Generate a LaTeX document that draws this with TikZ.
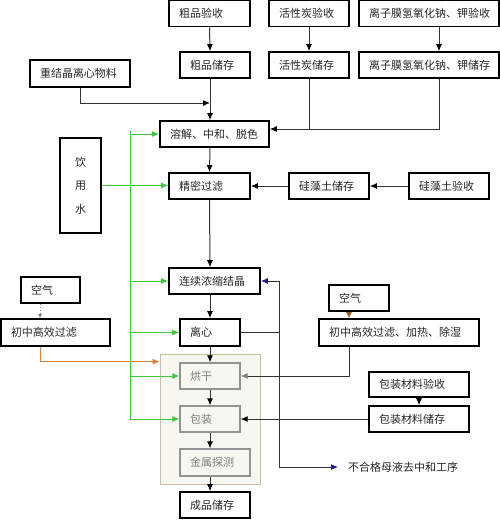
\documentclass[tikz,border=0pt]{standalone}
\usepackage{fontspec}
\newfontfamily\cjk{Noto Sans CJK SC}
\usepackage{xcolor}
\usetikzlibrary{arrows.meta}

\definecolor{linegray}{HTML}{333333}
\definecolor{watergreen}{HTML}{3CC83C}
\definecolor{airorange}{HTML}{D9823F}
\definecolor{airbrown}{HTML}{9A5A2A}
\definecolor{backblue}{HTML}{1E1E8C}
\definecolor{zonefill}{HTML}{F8F6F0}
\definecolor{zoneline}{HTML}{C9BEA6}

\begin{document}
\begin{tikzpicture}[x=1pt,y=-1pt,
	box/.style={draw=black, line width=1.6pt, inner xsep=10pt, inner ysep=0pt,
		minimum height=26pt, align=left, text=black!85,
		font=\cjk\fontsize{11}{13}\selectfont},
	greybox/.style={box, draw=gray!85, text=gray, line width=1.3pt},
	arr/.style={draw=linegray, line width=1pt, -{Latex[length=7pt,width=6pt,color=black]}},
	garr/.style={draw=watergreen, line width=1pt, -{Latex[length=7pt,width=6pt]}},
	barr/.style={draw=linegray, line width=1pt, -{Latex[length=7pt,width=6pt,color=backblue]}}]

	\useasboundingbox (0,0) rectangle (500,520);

	% Packing zone
	\node[draw=zoneline, fill=zonefill, line width=0.8pt, minimum width=100pt,
		minimum height=130pt, inner sep=0pt] (zone) at (210,419) {};

	% Receiving
	\node[box, text width=61pt] (cpys) at (209.5,13.5) {粗品验收};
	\node[box, text width=60pt] (hxtys) at (309,13.5) {活性炭验收};
	\node[box, text width=120pt] (lzmys) at (429,13.5) {离子膜氢氧化钠、钾验收};

	% Storage
	\node[box, text width=50pt] (cpcc) at (215,65) {粗品储存};
	\node[box, text width=60pt] (hxtcc) at (309,65) {活性炭储存};
	\node[box, text width=120pt] (lzmcc) at (429,65) {离子膜氢氧化钠、钾储存};
	\node[box, text width=80pt, minimum height=27pt] (cjj) at (80,73.5) {重结晶离心物料};

	% Main line
	\node[box, text width=89pt] (rj) at (214.5,134) {溶解、中和、脱色};
	\node[box, align=center, minimum width=41pt, minimum height=95pt, inner xsep=0pt,
		font=\cjk\fontsize{11}{23.5}\selectfont] (ysw) at (80.5,185.5) {饮\\用\\水};
	\node[box, text width=61pt] (jmgl) at (209.5,186) {精密过滤};
	\node[box, text width=60pt] (gztcc) at (329,186) {硅藻土储存};
	\node[box, text width=60pt] (gztys) at (449,186) {硅藻土验收};
	\node[box, text width=71pt] (lxns) at (214.5,281) {连续浓缩结晶};
	\node[box, text width=40pt, minimum height=27pt] (lx) at (210,332.5) {离心};
	\node[greybox, text width=40pt] (hg) at (210,376) {烘干};
	\node[greybox, text width=40pt] (bz) at (210,419) {包装};
	\node[greybox, text width=50pt, minimum height=27pt] (jsts) at (215,462.5) {金属探测};
	\node[box, text width=50pt] (cpcc2) at (215,505) {成品储存};

	% Air
	\node[box, text width=39pt] (kq1) at (50.5,290) {空气};
	\node[box, text width=89pt, minimum height=27pt] (cz1) at (55.5,332.5) {初中高效过滤};
	\node[box, text width=40pt] (kq2) at (359,298) {空气};
	\node[box, text width=140pt, minimum height=27pt] (cz2) at (399,332.5) {初中高效过滤、加热、除湿};

	% Packing material
	\node[box, text width=80pt, minimum height=25pt] (bzys) at (419,384.5) {包装材料验收};
	\node[box, text width=80pt] (bzcc) at (419,419) {包装材料储存};

	% Mother liquor
	\node[anchor=west, inner xsep=10pt, text=black!85,
		font=\cjk\fontsize{11}{13}\selectfont] (bhg) at (338,467) {不合格母液去中和工序};

	% Helper points
	\coordinate (mx) at (210,0);
	\coordinate (gx) at (130,131);
	\coordinate (j1) at (210,103);
	\coordinate (ret) at (279,0);
	\coordinate (rjin) at ([yshift=5pt]rj.east);
	\coordinate (zin) at ([yshift=-8pt]zone.north west);

	% Receiving to storage
	\draw[arr] (cpys.south) -- (mx |- cpcc.north);
	\draw[arr] (hxtys.south) -- (hxtcc.north);
	\draw[arr] ([xshift=10pt]lzmys.south) -- ([xshift=10pt]lzmcc.north);

	% Into dissolving
	\draw[arr] (mx |- cpcc.south) -- (mx |- rj.north);
	\draw[arr] (cjj.south) |- (j1);
	\draw[draw=linegray, line width=1pt] (hxtcc.south) -- (hxtcc.south |- rjin);
	\draw[arr] ([xshift=10pt]lzmcc.south) |- (rjin);

	% Main line
	\draw[arr] (mx |- rj.south) -- (jmgl.north);
	\draw[arr] (gztcc.west) -- (jmgl.east);
	\draw[arr] (gztys.west) -- (gztcc.east);
	\draw[arr] (jmgl.south) -- (mx |- lxns.north);
	\draw[arr] (mx |- lxns.south) -- (lx.north);
	\draw[arr] (lx.south) -- (hg.north);
	\draw[arr] (hg.south) -- (bz.north);
	\draw[arr] (bz.south) -- (mx |- jsts.north);
	\draw[arr] (mx |- jsts.south) -- (mx |- cpcc2.north);

	% Drinking water
	\draw[garr] (ysw.east) -- (ysw.east -| jmgl.west);
	\draw[draw=watergreen, line width=1pt] (gx) -- (gx |- bz.west);
	\draw[garr] (rj.west -| gx) -- (rj.west);
	\draw[garr] (lxns.west -| gx) -- (lxns.west);
	\draw[garr] (lx.west -| gx) -- (lx.west);
	\draw[garr] (hg.west -| gx) -- (hg.west);
	\draw[garr] (bz.west -| gx) -- (bz.west);

	% Air lines
	\draw[draw=gray, dotted, line width=1pt, -{Latex[length=4pt,width=4pt]}]
		([xshift=-10.5pt]kq1.south) -- ([xshift=-15.5pt]cz1.north);
	\draw[draw=airorange, line width=1pt, -{Latex[length=7pt,width=6pt]}]
		([xshift=-15.5pt]cz1.south) |- (zin);
	\draw[draw=airbrown, line width=1pt, -{Latex[length=6pt,width=6pt]}]
		([xshift=-10pt]kq2.south) -- ([xshift=-50pt]cz2.north);
	\draw[draw=linegray, line width=1pt, -{Latex[length=7pt,width=6pt,color=gray]}]
		([xshift=-50pt]cz2.south) |- (hg.east);

	% Packing material
	\draw[arr] (bzys.south) -- (bzcc.north);
	\draw[arr] (bzcc.west) -- (bz.east);

	% Mother liquor back
	\draw[draw=linegray, line width=1pt] (lx.east) -- (lx.east -| ret);
	\draw[barr] (lx.east -| ret) |- (lxns.east);
	\draw[barr] (lx.east -| ret) |- (bhg.west);
\end{tikzpicture}
\end{document}
